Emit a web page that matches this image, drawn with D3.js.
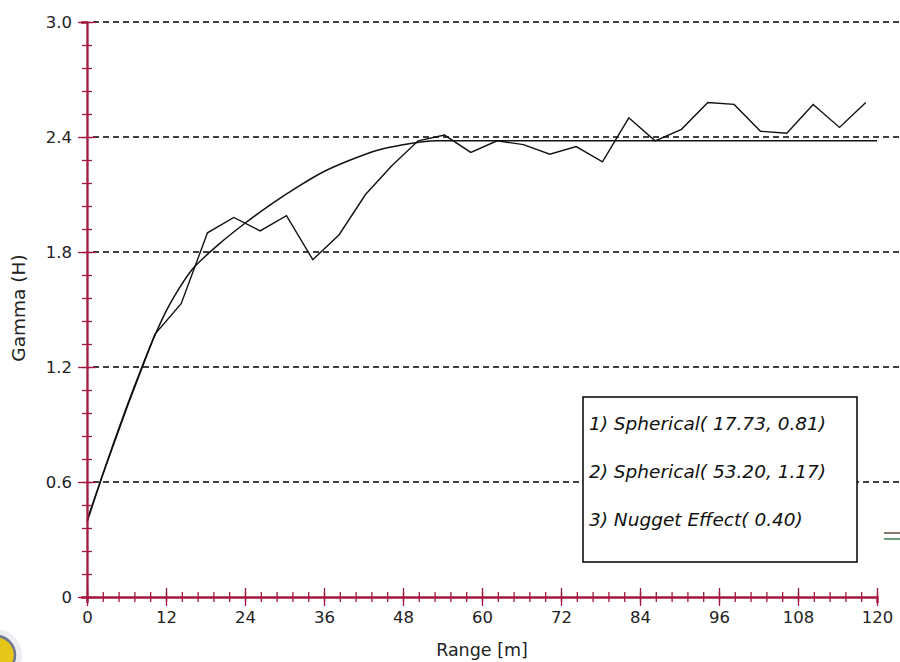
<!DOCTYPE html>
<html>
	<head>
		<meta charset="utf-8">
		<style type="text/css">
			body { margin: 0; background: white; }
			svg { display: block; font-family: "DejaVu Sans", sans-serif; }
		</style>
		<title>Variogram</title>
	</head>
	<body>
		<svg id="graph"></svg>
		<script src="https://cdn.jsdelivr.net/npm/d3@7"></script>
		<script>

// experimental variogram (lag, gamma)
var lagRange = [0, 2.3, 6.3, 10.3, 14.3, 18.3, 22.3, 26.3, 30.3, 34.3, 38.3, 42.3, 46.3, 50.3, 54.3,
	58.3, 62.3, 66.3, 70.3, 74.3, 78.3, 82.3, 86.3, 90.3, 94.3, 98.3, 102.3, 106.3, 110.3, 114.3, 118.3];
var lagGamma = [0.39, 0.63, 1.01, 1.37, 1.53, 1.90, 1.98, 1.91, 1.99, 1.76, 1.89, 2.10, 2.25, 2.38, 2.41,
	2.32, 2.38, 2.36, 2.31, 2.35, 2.27, 2.50, 2.38, 2.44, 2.58, 2.57, 2.43, 2.42, 2.57, 2.45, 2.58];

// fitted model curve
var modelRange = [0, 2, 4, 6, 8, 10, 12, 14, 16, 17.73, 20, 24, 28, 32, 36, 40, 44, 48, 53.2, 120];
var modelGamma = [0.40, 0.60, 0.80, 0.99, 1.17, 1.34, 1.49, 1.61, 1.71, 1.77, 1.84, 1.95, 2.05, 2.14, 2.22, 2.28, 2.33, 2.36, 2.38, 2.38];

var xTicks = [0, 12, 24, 36, 48, 60, 72, 84, 96, 108, 120];
var yTicks = [0, 0.6, 1.2, 1.8, 2.4, 3.0];
var yTickLabels = ["0", "0.6", "1.2", "1.8", "2.4", "3.0"];

var legendLines = [
	"1) Spherical( 17.73, 0.81)",
	"2) Spherical( 53.20, 1.17)",
	"3) Nugget Effect( 0.40)"
];

var width = 900, height = 662;
var axisColor = "#a3173f";

var x = d3.scaleLinear()
	.domain([0, 120])
	.range([87, 877]);

var y = d3.scaleLinear()
	.domain([0, 3])
	.range([597, 22]);

var svg = d3.select('#graph')
	.attr("width", width)
	.attr("height", height);

// little logo cut off in the corner
svg.append('circle')
	.attr('cx', -4).attr('cy', 655).attr('r', 26)
	.attr('fill', "#eceef1");
svg.append('circle')
	.attr('cx', -4).attr('cy', 655).attr('r', 19)
	.attr('fill', "#e6c619")
	.attr('stroke', "#6f7890")
	.attr('stroke-width', 2.5);

// dashed grid
svg.append('g')
	.selectAll('line')
	.data(yTicks.slice(1))
	.enter().append('line')
		.attr('x1', x(0) + 6)
		.attr('x2', width)
		.attr('y1', d => y(d))
		.attr('y2', d => y(d))
		.attr('stroke', "black")
		.attr('stroke-width', 1.5)
		.attr('stroke-dasharray', "6,4");

// legend box (sits on top of the grid)
var legend = svg.append('g');
legend.append('rect')
	.attr('x', 583).attr('y', 397)
	.attr('width', 274).attr('height', 165)
	.attr('fill', "white")
	.attr('stroke', "black")
	.attr('stroke-width', 1.5);
legend.selectAll('text')
	.data(legendLines)
	.enter().append('text')
		.attr('x', 589)
		.attr('y', (d, i) => 430 + i * 48)
		.attr('font-size', 18.5)
		.attr('font-style', "italic")
		.attr('fill', "#111")
		.text(d => d);

// stray marks at the right edge
svg.append('line').attr('x1', 884).attr('x2', 900).attr('y1', 533).attr('y2', 533)
	.attr('stroke', "#5b4b3c").attr('stroke-width', 1.5);
svg.append('line').attr('x1', 884).attr('x2', 900).attr('y1', 539).attr('y2', 539)
	.attr('stroke', "#3d7b52").attr('stroke-width', 1.5);

// curves
var line = d3.line()
	.x(d => x(d[0]))
	.y(d => y(d[1]));

svg.append('path')
	.datum(d3.zip(modelRange, modelGamma))
	.attr('d', line.curve(d3.curveMonotoneX))
	.attr('fill', "none")
	.attr('stroke', "#111")
	.attr('stroke-width', 1.5);

svg.append('path')
	.datum(d3.zip(lagRange, lagGamma))
	.attr('d', d3.line().x(d => x(d[0])).y(d => y(d[1])))
	.attr('fill', "none")
	.attr('stroke', "#111")
	.attr('stroke-width', 1.4);

// axes
var xMinor = d3.range(0, 120.001, 2.4);
var yMinor = d3.range(0, 3.001, 0.12);

var xaxis = svg.append('g')
	.attr('transform', 'translate(0,' + y(0) + ')');
xaxis.call(d3.axisBottom(x).tickValues(xMinor).tickFormat(""));
xaxis.selectAll('.tick line').attr('y1', -5).attr('y2', 5);
var xmajor = svg.append('g')
	.attr('transform', 'translate(0,' + y(0) + ')')
	.call(d3.axisBottom(x).tickValues(xTicks).tickFormat(d3.format("d")));
xmajor.selectAll('.tick line').attr('y1', -9).attr('y2', 9);
xmajor.selectAll('.tick text').attr('y', 14);

var yaxis = svg.append('g')
	.attr('transform', 'translate(' + x(0) + ',0)');
yaxis.call(d3.axisLeft(y).tickValues(yMinor).tickFormat(""));
yaxis.selectAll('.tick line').attr('x1', -5).attr('x2', 5);
var ymajor = svg.append('g')
	.attr('transform', 'translate(' + x(0) + ',0)')
	.call(d3.axisLeft(y).tickValues(yTicks).tickFormat((d, i) => yTickLabels[i]));
ymajor.selectAll('.tick line').attr('x1', -9).attr('x2', 9);
ymajor.selectAll('.tick text').attr('x', -15);

svg.selectAll('.domain')
	.attr('stroke', axisColor)
	.attr('stroke-width', 1.8);
svg.selectAll('.tick line')
	.attr('stroke', axisColor)
	.attr('stroke-width', 1.3);
svg.selectAll('.tick text')
	.attr('fill', "#222")
	.attr('font-size', 16.5)
	.attr('font-family', "DejaVu Sans, sans-serif");

// axis titles
svg.append('text')
	.attr('x', x(60))
	.attr('y', 656)
	.attr('text-anchor', "middle")
	.attr('font-size', 17.5)
	.attr('fill', "#222")
	.text("Range [m]");

svg.append('text')
	.attr('transform', 'translate(25,308) rotate(-90)')
	.attr('text-anchor', "middle")
	.attr('font-size', 18.5)
	.attr('fill', "#222")
	.text("Gamma (H)");

		</script>
	</body>
</html>
